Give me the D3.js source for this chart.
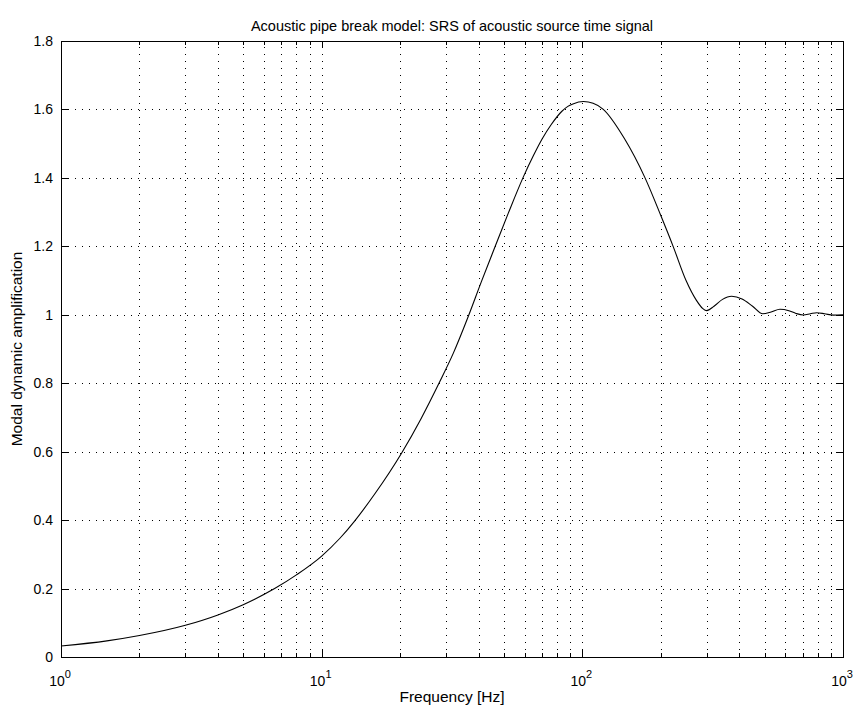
<!DOCTYPE html>
<html>
<head>
<meta charset="utf-8">
<script src="https://cdn.jsdelivr.net/npm/d3@7"></script>
<style>
  body { margin: 0; background: #fff; }
  svg text { font-family: "Liberation Sans", Arial, Helvetica, sans-serif; fill: #000; }
</style>
</head>
<body>
<svg id="chart" width="856" height="707"></svg>
<script>
// SRS curve
const freq = [1, 1.5, 2, 3, 4, 5, 6.6, 8, 10, 11.75, 13.4, 16, 20.3, 24, 28.4,
  32, 36.5, 41, 46.2, 52, 59.4, 65, 70, 76, 83.3, 88, 92, 101, 110, 120, 145, 174,
  200, 223, 250, 274, 290, 300, 320, 345, 374, 410, 450, 492, 530, 573, 620, 660,
  704, 750, 793, 850, 918, 1000];
const amp = [0.032, 0.047, 0.0627, 0.0927, 0.123, 0.153, 0.2, 0.24, 0.295, 0.347, 0.398,
  0.477, 0.597, 0.695, 0.805, 0.888, 0.995, 1.097, 1.198, 1.297, 1.403, 1.466, 1.513,
  1.556, 1.594, 1.609, 1.616, 1.623, 1.618, 1.601, 1.515, 1.4, 1.29, 1.2, 1.1, 1.042,
  1.018, 1.012, 1.025, 1.045, 1.054, 1.046, 1.025, 1.003, 1.008, 1.016, 1.012, 1.004,
  0.9995, 1.003, 1.006, 1.003, 0.999, 1.0];
const yTicks = [0, 0.2, 0.4, 0.6, 0.8, 1, 1.2, 1.4, 1.6, 1.8];
const xDecades = [1, 10, 100, 1000];
const xExps = ["0", "1", "2", "3"];

const title = "Acoustic pipe break model: SRS of acoustic source time signal";
const xLabel = "Frequency [Hz]";
const yLabel = "Modal dynamic amplification";

const m = { left: 61, right: 843, top: 41, bottom: 657 };
const svg = d3.select("#chart");

const x = d3.scaleLog().domain([1, 1000]).range([m.left, m.right]);
const y = d3.scaleLinear().domain([0, 1.8]).range([m.bottom, m.top]);

// minor positions 1..9 per decade
const xGrid = [];
xDecades.slice(0, 3).forEach((d) => {
  for (let k = 1; k <= 9; k++) xGrid.push(d * k);
});
xGrid.push(1000);

const px = (v) => Math.round(v) + 0.5;

// dotted grid
const grid = svg.append("g")
  .attr("stroke", "#000")
  .attr("stroke-width", 1)
  .attr("stroke-dasharray", "1,6");
grid.selectAll("line.v")
  .data(xGrid.filter((f) => f > 1 && f < 1000))
  .join("line")
  .attr("x1", (f) => px(x(f))).attr("x2", (f) => px(x(f)))
  .attr("y1", m.bottom).attr("y2", m.top);
grid.selectAll("line.h")
  .data(yTicks.filter((t) => t > 0 && t < 1.8))
  .join("line")
  .attr("x1", m.left).attr("x2", m.right)
  .attr("y1", (t) => px(y(t))).attr("y2", (t) => px(y(t)));

// ticks, pointing inward on all four sides
const ticks = svg.append("g").attr("stroke", "#000").attr("stroke-width", 1);
xGrid.forEach((f) => {
  const len = xDecades.includes(f) ? 7 : 4;
  ticks.append("line").attr("x1", px(x(f))).attr("x2", px(x(f)))
    .attr("y1", m.bottom).attr("y2", m.bottom - len);
  ticks.append("line").attr("x1", px(x(f))).attr("x2", px(x(f)))
    .attr("y1", m.top).attr("y2", m.top + len);
});
yTicks.forEach((t) => {
  ticks.append("line").attr("x1", m.left).attr("x2", m.left + 7)
    .attr("y1", px(y(t))).attr("y2", px(y(t)));
  ticks.append("line").attr("x1", m.right).attr("x2", m.right - 7)
    .attr("y1", px(y(t))).attr("y2", px(y(t)));
});

// curve
const line = d3.line()
  .x((d, i) => x(freq[i]))
  .y((d) => y(d))
  .curve(d3.curveMonotoneX);
svg.append("path")
  .datum(amp)
  .attr("fill", "none")
  .attr("stroke", "#000")
  .attr("stroke-width", 1.1)
  .attr("d", line);

// box
svg.append("rect")
  .attr("x", px(m.left)).attr("y", px(m.top))
  .attr("width", Math.round(m.right) - Math.round(m.left))
  .attr("height", Math.round(m.bottom) - Math.round(m.top))
  .attr("fill", "none").attr("stroke", "#000").attr("stroke-width", 1);

// y tick labels
svg.append("g").selectAll("text")
  .data(yTicks)
  .join("text")
  .attr("x", m.left - 8)
  .attr("y", (t) => y(t) + 5)
  .attr("text-anchor", "end")
  .attr("font-size", 14)
  .text((t) => (t === 0 || t === 1 ? String(t) : t.toFixed(1)));

// x tick labels 10^n
xDecades.forEach((d, i) => {
  const t = svg.append("text")
    .attr("x", x(d) - 1)
    .attr("y", 686)
    .attr("text-anchor", "middle")
    .attr("font-size", 14);
  t.append("tspan").text("10");
  t.append("tspan").attr("dy", -8).attr("font-size", 11).text(xExps[i]);
});

svg.append("text")
  .attr("x", (m.left + m.right) / 2)
  .attr("y", 702)
  .attr("text-anchor", "middle")
  .attr("font-size", 15.5)
  .text(xLabel);

svg.append("text")
  .attr("transform", `translate(22,${(m.top + m.bottom) / 2}) rotate(-90)`)
  .attr("text-anchor", "middle")
  .attr("font-size", 15.5)
  .text(yLabel);

svg.append("text")
  .attr("x", (m.left + m.right) / 2)
  .attr("y", 31)
  .attr("text-anchor", "middle")
  .attr("font-size", 14.5)
  .text(title);
</script>
</body>
</html>
